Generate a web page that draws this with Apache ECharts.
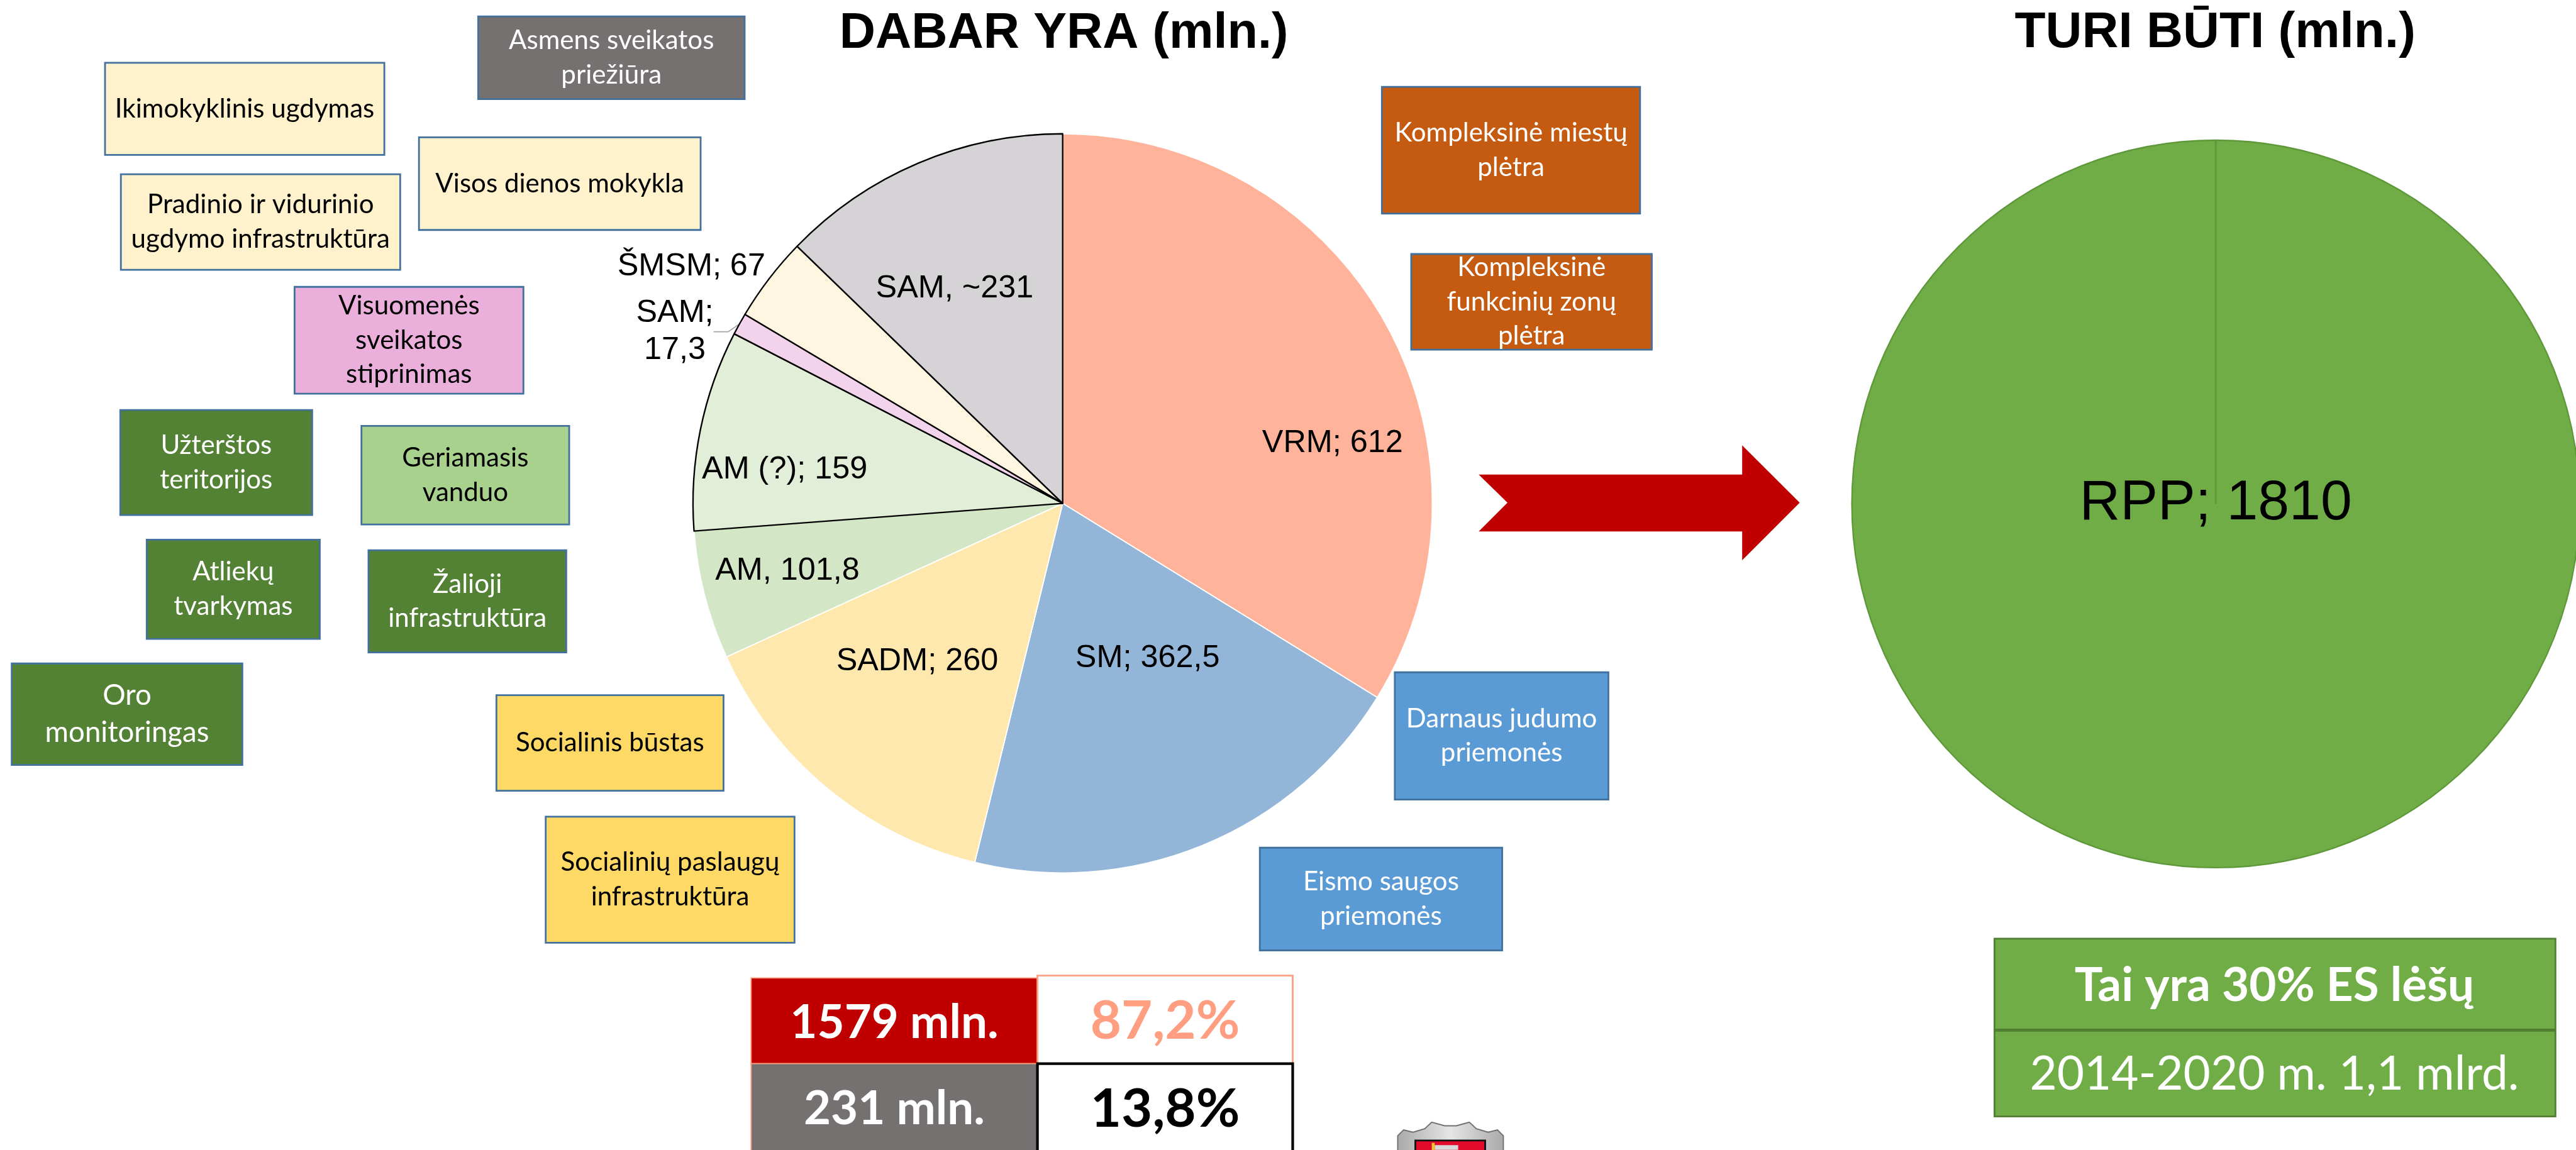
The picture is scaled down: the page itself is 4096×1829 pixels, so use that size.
<!DOCTYPE html>
<html><head><meta charset="utf-8">
<script src="https://cdn.jsdelivr.net/npm/echarts@6/dist/echarts.min.js"></script>
<style>html,body{margin:0;padding:0;background:#fff;overflow:hidden}#c{width:4096px;height:1829px}</style>
</head><body><div id="c"></div>
<script>
// ---------- DATA ----------
const currentNames = ['VRM', 'SM', 'SADM', 'AM', 'AM (?)', 'SAM', 'ŠMSM', 'SAM'];
const currentValues = [612, 362.5, 260, 101.8, 159, 17.3, 67, 231];
const currentSeparators = ['; ', '; ', '; ', ', ', '; ', ';\n', '; ', ', ~'];
const targetNames = ['RPP'];
const targetValues = [1810];
const chartTitles = ['DABAR YRA (mln.)', 'TURI BŪTI (mln.)'];
const boxLabels = [
  'Asmens sveikatos\npriežiūra',
  'Ikimokyklinis ugdymas',
  'Visos dienos mokykla',
  'Pradinio ir vidurinio\nugdymo infrastruktūra',
  'Visuomenės\nsveikatos\nstiprinimas',
  'Užterštos\nteritorijos',
  'Geriamasis\nvanduo',
  'Atliekų\ntvarkymas',
  'Žalioji\ninfrastruktūra',
  'Oro\nmonitoringas',
  'Socialinis būstas',
  'Socialinių paslaugų\ninfrastruktūra',
  'Kompleksinė miestų\nplėtra',
  'Kompleksinė\nfunkcinių zonų\nplėtra',
  'Darnaus judumo\npriemonės',
  'Eismo saugos\npriemonės'
];
const shareTable = ['1579 mln.', '87,2%', '231 mln.', '13,8%'];
const euTable = ['Tai yra 30% ES lėšų', '2014-2020 m. 1,1 mlrd.'];

// ---------- LAYOUT / STYLE (reference pixel units) ----------
const S = 4096 / 4390;
const P = v => v * S;
const sliceColors = ['#FFB39B', '#93B6D8', '#FFE8AE', '#D3E6C6', '#E2EED8', '#F3D2EC', '#FFF6E2', '#D5D3D5'];
const sliceBorders = ['#FFFFFF', '#FFFFFF', '#FFFFFF', '#FFFFFF', '#000000', '#000000', '#000000', '#000000'];
const labelNudge = [[182, 53], [24, -30], [-45, 24], [-161, 36], [-162, 6], [0, 22], [-380, -210], [-60, -73]];
// x0, y0, x1, y1, fill, text colour, font size
const boxLayout = [
  [815, 28, 1269, 169, '#767171', '#fff', 48],
  [179, 107, 655, 264, '#FFF2CC', '#000', 48],
  [714, 234, 1194, 392, '#FFF2CC', '#000', 48],
  [206, 297, 682, 460, '#FFF2CC', '#000', 48],
  [502, 489, 892, 671, '#EBAFDC', '#000', 48],
  [205, 699, 532, 878, '#548235', '#fff', 48],
  [616, 726, 970, 894, '#A9D18E', '#000', 48],
  [250, 920, 545, 1089, '#548235', '#fff', 48],
  [628, 938, 965, 1112, '#548235', '#fff', 48],
  [20, 1131, 413, 1304, '#548235', '#fff', 52],
  [846, 1185, 1233, 1348, '#FFD966', '#000', 48],
  [930, 1392, 1354, 1607, '#FFD966', '#000', 48],
  [2355, 148, 2795, 364, '#C55A11', '#fff', 48],
  [2405, 433, 2815, 596, '#C55A11', '#fff', 48],
  [2377, 1146, 2741, 1363, '#5B9BD5', '#fff', 48],
  [2147, 1445, 2560, 1620, '#5B9BD5', '#fff', 48]
];
const leftPie = {cx: 1811, cy: 858, r: 630};
const rightPie = {cx: 3776, cy: 859, r: 620};
const CAL = 'Lato, "Open Sans", sans-serif';
const ARI = '"Liberation Sans", Arial, sans-serif';

const fmt = v => String(v).replace('.', ',');

const graphics = [];
// titles
graphics.push({type: 'text', x: P(1813), y: P(58), z: 10, style: {text: chartTitles[0], fill: '#000', font: `bold ${P(85)}px ${ARI}`, align: 'center', verticalAlign: 'middle'}});
graphics.push({type: 'text', x: P(3775), y: P(57), z: 10, style: {text: chartTitles[1], fill: '#000', font: `bold ${P(86)}px ${ARI}`, align: 'center', verticalAlign: 'middle'}});

// boxes
boxLayout.forEach((b, i) => {
  const [x0, y0, x1, y1, fill, tc, fs] = b;
  graphics.push({type: 'rect', z: 5, shape: {x: P(x0), y: P(y0), width: P(x1 - x0), height: P(y1 - y0)},
    style: {fill: fill, stroke: '#41719C', lineWidth: P(3)}});
  const f = fs * 0.94;
  graphics.push({type: 'text', z: 6, x: P((x0 + x1) / 2), y: P((y0 + y1) / 2),
    style: {text: boxLabels[i], fill: tc, font: `${P(f)}px ${CAL}`, align: 'center', verticalAlign: 'middle', lineHeight: P(fs * 1.22)}});
});

// arrow
graphics.push({type: 'polygon', z: 5, shape: {points: [[2520, 809], [2969, 809], [2969, 759], [3067, 857], [2969, 955], [2969, 906], [2520, 906], [2569, 857]].map(p => [P(p[0]), P(p[1])])},
  style: {fill: '#C00000'}});

// share table
const cells = [
  [1280, 1667, 1768, 1813, '#C00000', '#FF9E80', 2, '#FFFFFF', 84, 1744],
  [1768, 1663, 2203, 1813, '#FFFFFF', '#FF9E80', 3, '#FF9E80', 96, 1741],
  [1280, 1813, 1768, 1965, '#767171', '#FF9E80', 2, '#FFFFFF', 84, 1891],
  [1768, 1813, 2203, 1965, '#FFFFFF', '#000000', 4, '#000000', 96, 1891]
];
cells.forEach((c, i) => {
  graphics.push({type: 'rect', z: 5, shape: {x: P(c[0]), y: P(c[1]), width: P(c[2] - c[0]), height: P(c[3] - c[1])},
    style: {fill: c[4], stroke: c[5], lineWidth: P(c[6])}});
  graphics.push({type: 'text', z: 6, x: P((c[0] + c[2]) / 2), y: P(c[9]),
    style: {text: shareTable[i], fill: c[7], font: `bold ${P(c[8] * 0.95)}px ${CAL}`, align: 'center', verticalAlign: 'middle'}});
});
graphics.push({type: 'rect', z: 7, shape: {x: P(1768), y: P(1813), width: P(435), height: P(152)}, style: {fill: 'none', stroke: '#000', lineWidth: P(4)}});

// EU table
graphics.push({type: 'rect', z: 5, shape: {x: P(3399), y: P(1600), width: P(956), height: P(303)}, style: {fill: '#70AD47', stroke: '#507E32', lineWidth: P(3)}});
graphics.push({type: 'line', z: 6, shape: {x1: P(3399), y1: P(1756), x2: P(4355), y2: P(1756)}, style: {stroke: '#507E32', lineWidth: P(5)}});
graphics.push({type: 'text', z: 7, x: P(3876), y: P(1680), style: {text: euTable[0], fill: '#fff', font: `bold ${P(80)}px ${CAL}`, align: 'center', verticalAlign: 'middle'}});
graphics.push({type: 'text', z: 7, x: P(3876), y: P(1832), style: {text: euTable[1], fill: '#fff', font: `${P(80)}px ${CAL}`, align: 'center', verticalAlign: 'middle'}});

// radial edge line of the full right pie
graphics.push({type: 'line', z: 20, shape: {x1: P(rightPie.cx), y1: P(rightPie.cy - rightPie.r), x2: P(rightPie.cx), y2: P(rightPie.cy)},
  style: {stroke: '#5E983A', lineWidth: P(3)}});

// small crest
graphics.push({type: 'polygon', z: 5, shape: {points: [[2382, 1965], [2382, 1936], [2392, 1926], [2408, 1930], [2428, 1924], [2440, 1913], [2462, 1919], [2482, 1919], [2504, 1913], [2516, 1924], [2536, 1930], [2552, 1926], [2562, 1936], [2562, 1965]].map(p => [P(p[0]), P(p[1])])},
  style: {fill: new echarts.graphic.LinearGradient(0, 0, 1, 0, [{offset: 0, color: '#A9A9A9'}, {offset: 0.5, color: '#E6E6E6'}, {offset: 1, color: '#A9A9A9'}]), stroke: '#707070', lineWidth: P(2)}});
graphics.push({type: 'rect', z: 6, shape: {x: P(2412), y: P(1944), width: P(119), height: P(25)}, style: {fill: '#E30B2B', stroke: '#111', lineWidth: P(3)}});
graphics.push({type: 'rect', z: 7, shape: {x: P(2445), y: P(1952), width: P(40), height: P(8)}, style: {fill: '#D9D9D9'}});
graphics.push({type: 'rect', z: 7, shape: {x: P(2440), y: P(1948), width: P(5), height: P(16)}, style: {fill: '#E8C830'}});

const leftData = currentValues.map((v, i) => {
  const item = {name: currentNames[i], value: v,
    itemStyle: {color: sliceColors[i], borderColor: sliceBorders[i], borderWidth: P(sliceBorders[i] === '#000000' ? 2.5 : 2)}};
  if (i === 5) {
    item.label = {position: 'outside'};
    item.labelLine = {show: true, length: P(18), length2: P(25), lineStyle: {color: '#A6A6A6', width: P(2)}};
  }
  return item;
});

const option = {
  animation: false,
  backgroundColor: '#fff',
  graphic: {elements: graphics},
  series: [
    {
      type: 'pie', name: chartTitles[0], z: 2,
      center: [P(leftPie.cx), P(leftPie.cy)], radius: P(leftPie.r),
      startAngle: 90, clockwise: true, avoidLabelOverlap: false, silent: true,
      data: leftData,
      label: {
        show: true, position: 'inside', color: '#000', fontFamily: ARI, fontSize: P(54),
        formatter: p => {
          const i = p.dataIndex;
          const t = currentNames[i] + currentSeparators[i] + fmt(currentValues[i]);
          if (i === 5) return t.split('\n').map(s => '{c|' + s + '}').join('\n');
          return t;
        },
        rich: {c: {width: P(130), align: 'center', fontSize: P(54), fontFamily: ARI, color: '#000', lineHeight: P(63)}}
      },
      labelLine: {show: false},
      labelLayout: p => {
        const n = labelNudge[p.dataIndex];
        if (!n) return {};
        if (p.dataIndex === 5) {
          return {x: p.labelRect.x + p.labelRect.width, y: p.labelRect.y + p.labelRect.height / 2 + P(n[1]), align: 'right'};
        }
        return {x: p.labelRect.x + p.labelRect.width / 2 + P(n[0]), y: p.labelRect.y + p.labelRect.height / 2 + P(n[1])};
      }
    },
    {
      type: 'pie', name: chartTitles[1], z: 2,
      center: [P(rightPie.cx), P(rightPie.cy)], radius: P(rightPie.r),
      startAngle: 90, silent: true,
      data: targetValues.map((v, i) => ({name: targetNames[i], value: v})),
      itemStyle: {color: '#70AD47', borderColor: '#5E983A', borderWidth: P(2.5)},
      label: {show: true, position: 'center', color: '#000', fontFamily: ARI, fontSize: P(96),
        formatter: p => p.name + '; ' + p.value},
      labelLine: {show: false}
    }
  ]
};
const chart = echarts.init(document.getElementById('c'), null, {renderer: 'canvas'});
chart.setOption(option);
</script>
</body></html>
